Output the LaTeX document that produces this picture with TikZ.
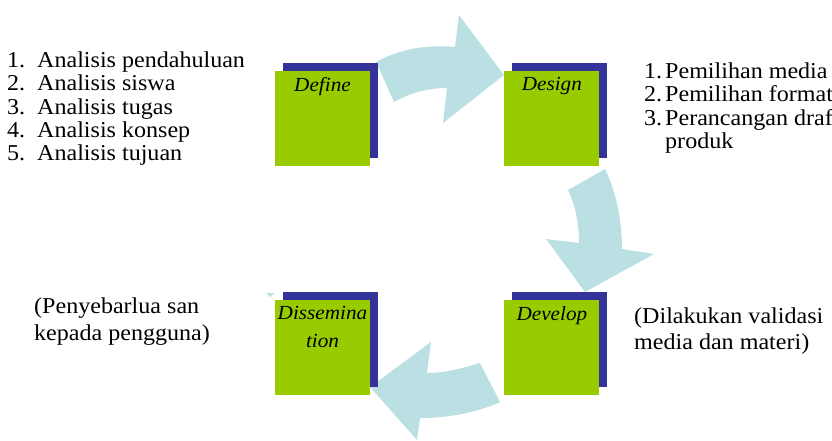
\documentclass[tikz,border=0pt]{standalone}
\usepackage{fontspec}
\setmainfont{Liberation Serif}[FakeStretch=1.06]
\usetikzlibrary{positioning, shadows, calc}

\definecolor{stagegreen}{HTML}{99CC00}
\definecolor{stageblue}{HTML}{333399}
\definecolor{flowblue}{HTML}{BAE0E4}

\tikzset{
  stage/.style={rectangle, fill=stagegreen, minimum width=95pt, minimum height=95pt, inner sep=0pt,
    general shadow={fill=stageblue, shadow xshift=8pt, shadow yshift=8pt}},
  stagelbl/.style={anchor=north, inner sep=0pt, align=center, font=\fontsize{20}{28}\selectfont\itshape},
  note/.style={anchor=north west, inner sep=0pt, align=left},
  flow/.style={fill=flowblue}
}

\begin{document}
\begin{tikzpicture}[x=1pt, y=-1pt, font=\fontsize{22.7}{23.3}\selectfont, node distance=134pt]
    \useasboundingbox (0,0) rectangle (832,441);

    % curved arrows between the stages
    \fill[flow] (376,62) .. controls (398,50) and (425,44) .. (455,47) -- (459,15) -- (504,75)
        -- (443,123) -- (447,88) .. controls (428,88) and (410,93) .. (394,102) -- cycle;
    \fill[flow] (568,190) -- (605,169) .. controls (616,192) and (622,220) .. (622,249) -- (654,254)
        -- (585,292) -- (546,239) -- (579,243) .. controls (579,222) and (575,205) .. (568,190) -- cycle;
    \fill[flow] (480,363) .. controls (463,368) and (445,373) .. (427,373) -- (431,342) -- (370,387)
        -- (417,440) -- (420,418) .. controls (450,418) and (478,412) .. (500,402) -- cycle;
    \fill[flow] (266,293) -- (275,293) -- (270,297) -- cycle;

    % the four stages
    \node[stage] (define) at (322.5,118.5) {};
    \node[stage, right=of define] (design) {};
    \node[stage, below=of design] (develop) {};
    \node[stage, left=of develop] (dissem) {};

    \node[stagelbl] (define-lbl) at ($(define.north)+(0,6.3)$) {Define};
    \node[stagelbl] (design-lbl) at ($(design.north)+(0,6.3)$) {Design};
    \node[stagelbl] (develop-lbl) at ($(develop.north)+(0,6.3)$) {Develop};
    \node[stagelbl] (dissem-lbl) at ($(dissem.north)+(0,6.3)$) {Dissemina\\tion};

    % notes beside the stages
    \node[note] (define-note) at (7,51.5) {\makebox[30pt][l]{1.}Analisis pendahuluan\\
        \makebox[30pt][l]{2.}Analisis siswa\\
        \makebox[30pt][l]{3.}Analisis tugas\\
        \makebox[30pt][l]{4.}Analisis konsep\\
        \makebox[30pt][l]{5.}Analisis tujuan};
    \node[note] (design-note) at (644,62.5) {\makebox[21pt][l]{1.}Pemilihan media\\
        \makebox[21pt][l]{2.}Pemilihan format\\
        \makebox[21pt][l]{3.}Perancangan draf\\
        \hspace*{21pt}produk};
    \node[note, font=\fontsize{22.7}{25.5}\selectfont] (develop-note) at (634,308)
        {(Dilakukan validasi\\media dan materi)};
    \node[note, font=\fontsize{22.7}{27.5}\selectfont] (dissem-note) at (34,297.5)
        {(Penyebarlua san\\kepada pengguna)};
\end{tikzpicture}
\end{document}
